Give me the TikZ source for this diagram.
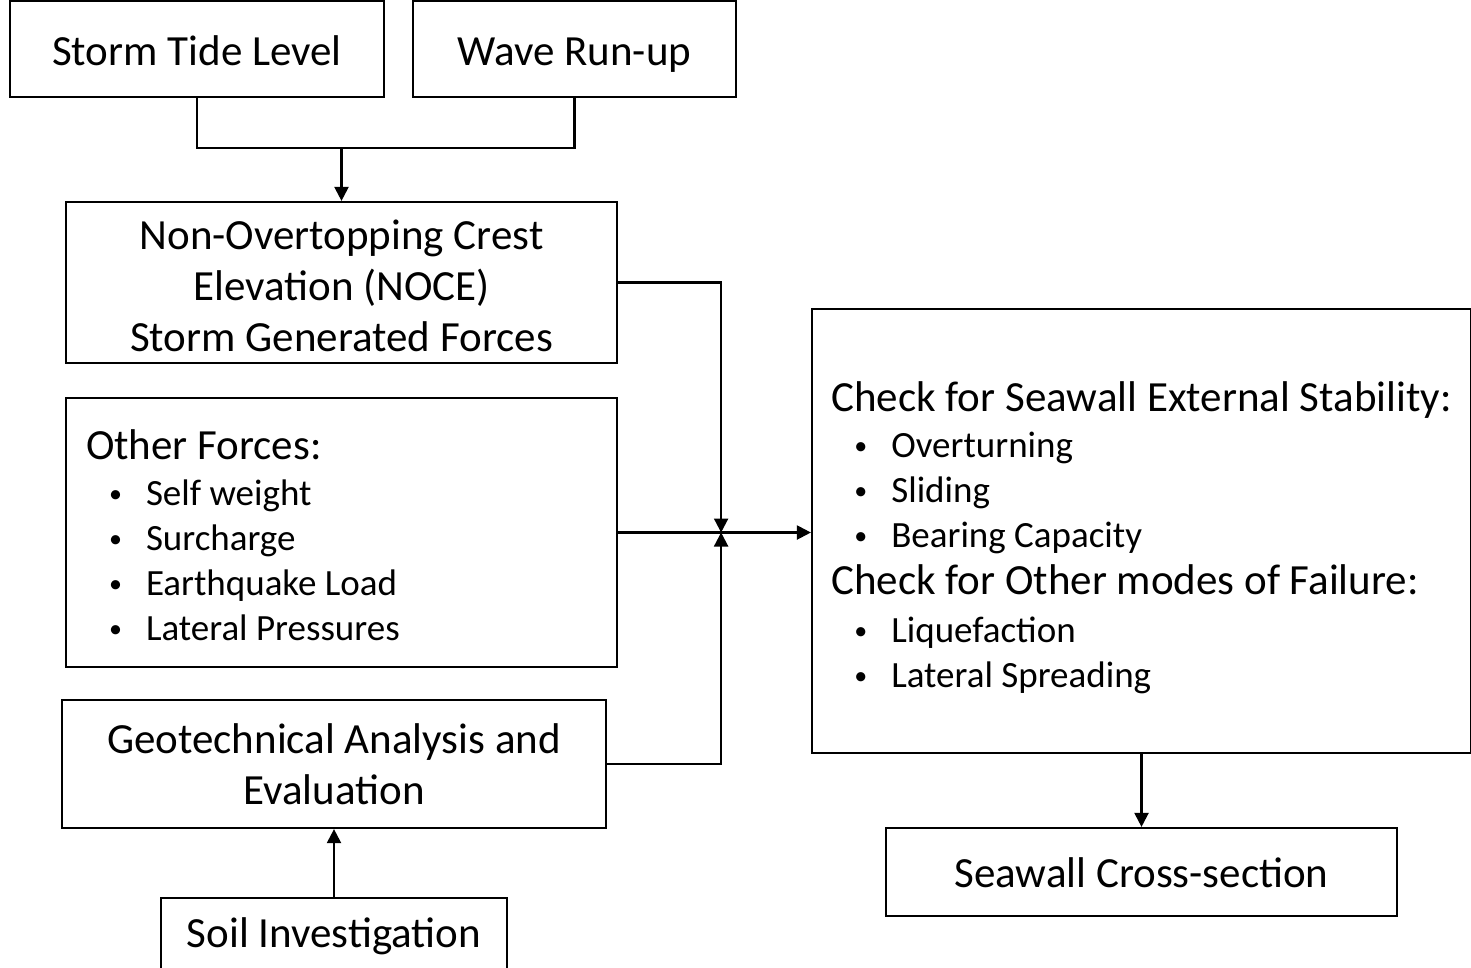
\documentclass[tikz,border=0pt]{standalone}
\usepackage{fontspec}
\setmainfont{Carlito}
\usetikzlibrary{arrows.meta}
\newcommand{\mainsize}{\fontsize{43}{51}\selectfont}
\newcommand{\listsize}{\fontsize{37}{45}\selectfont}
\newcommand{\bul}{\raisebox{3pt}{\fontsize{26}{0}\selectfont\textbullet}}
\newcommand{\itm}[1]{\hspace*{23pt}\makebox[37pt][l]{\bul}#1}
\newcommand{\lift}[1]{\rule{0pt}{#1}} %taller first line pushes the text down
\newcommand{\lw}{2.2pt}
\begin{document}
\begin{tikzpicture}[
      x=1pt, y=-1pt, %one unit is one pixel of the page
      box/.style={draw, line width=\lw, inner sep=0pt, align=center, font=\mainsize},
      oneline/.style={text height=32pt, text depth=0pt},
      listbox/.style={draw, line width=\lw, inner xsep=20pt, inner ysep=0pt, align=flush left, font=\listsize},
      link/.style={line width=\lw},
      arrow/.style={line width=\lw, ->, >={Triangle[length=14pt,width=14pt]}}
    ]
    \useasboundingbox (0,0) rectangle (1471,967);
    % Draw the input boxes
    \node[box, oneline, minimum width=374pt, minimum height=96pt] (tide) at (197,49) {Storm Tide Level};
    \node[box, oneline, minimum width=323pt, minimum height=96pt] (wave) at (574.5,49) {Wave Run-up};
    \node[box, minimum width=551pt, minimum height=161pt] (noce) at (341.5,282.5)
      {\lift{36pt}Non-Overtopping Crest\\Elevation (NOCE)\\Storm Generated Forces};
    \node[listbox, text width=511pt, minimum height=269pt] (other) at (341.5,532.5)
      {{\mainsize\lift{35pt}Other Forces:}\\[1pt]
       \itm{Self weight}\\
       \itm{Surcharge}\\
       \itm{Earthquake Load}\\
       \itm{Lateral Pressures}};
    \node[box, minimum width=544pt, minimum height=128pt] (geo) at (334,764)
      {Geotechnical Analysis and\\Evaluation};
    \node[box, text height=18pt, text depth=0pt, minimum width=346pt, minimum height=80pt] (soil) at (334,938)
      {Soil Investigation};
    % Draw the checks and the result
    \node[listbox, inner xsep=0pt, minimum width=659pt, minimum height=444pt] (check) at (1141.5,531)
      {{\mainsize\lift{44pt}Check for Seawall External Stability:}\\[1pt]
       \itm{Overturning}\\
       \itm{Sliding}\\
       \itm{Bearing Capacity}\\[2pt]
       {\mainsize Check for Other modes of Failure:}\\[3pt]
       \itm{Liquefaction}\\
       \itm{Lateral Spreading}};
    \node[box, oneline, text height=30pt, minimum width=511pt, minimum height=88pt] (wall) at (1141.5,872)
      {Seawall Cross-section};
    % Junction points
    \path (noce.north) ++(0,-53) coordinate (top);
    \path (other.east) ++(103,0) coordinate (mid);
    % Draw the connectors
    \draw[link] (tide.south) |- (top) -| (wave.south);
    \draw[arrow] (top) -- (noce.north);
    \draw[arrow] (noce.east) -| (mid);
    \draw[arrow] (geo.east) -| (mid);
    \draw[arrow] (other.east) -- (other.east -| check.west);
    \draw[arrow] (soil.north) -- (geo.south);
    \draw[arrow] (check.south) -- (wall.north);
\end{tikzpicture}
\end{document}
